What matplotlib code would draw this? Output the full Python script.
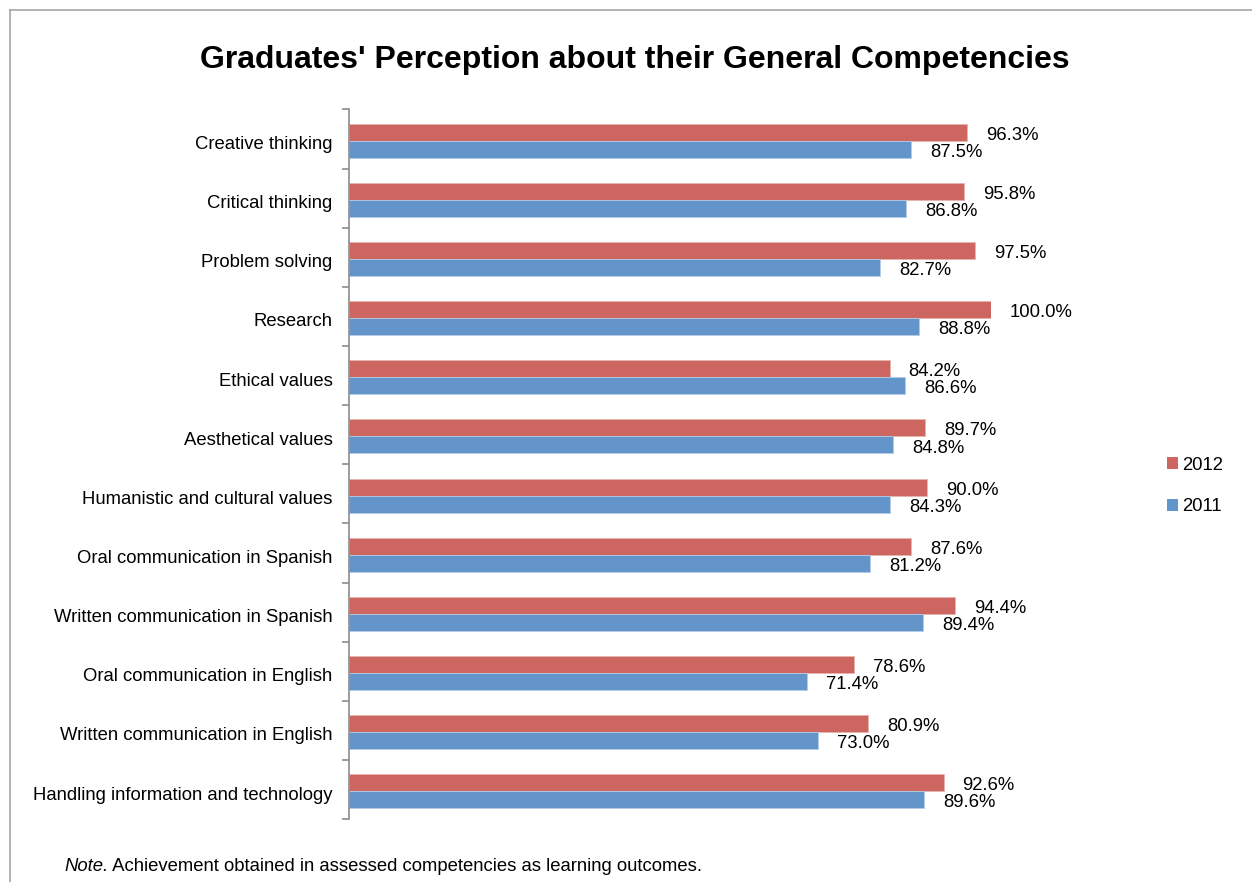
import matplotlib.pyplot as plt
from matplotlib.lines import Line2D
from matplotlib.patches import Patch

plt.rcParams['font.family'] = ['Liberation Sans', 'DejaVu Sans']

# Data (top to bottom as shown)
competencies = [
    'Creative thinking',
    'Critical thinking',
    'Problem solving',
    'Research',
    'Ethical values',
    'Aesthetical values',
    'Humanistic and cultural values',
    'Oral communication in Spanish',
    'Written communication in Spanish',
    'Oral communication in English',
    'Written communication in English',
    'Handling information and technology',
]
values_2012 = [96.3, 95.8, 97.5, 100.0, 84.2, 89.7, 90.0, 87.6, 94.4, 78.6, 80.9, 92.6]
values_2011 = [87.5, 86.8, 82.7, 88.8, 86.6, 84.8, 84.3, 81.2, 89.4, 71.4, 73.0, 89.6]
years = ['2012', '2011']

red = '#CD6660'
blue = '#6395CA'
fs = 13.3

fig = plt.figure(figsize=(12.52, 8.82), dpi=100)
ax = fig.add_axes([0.2788, 0.0714, 0.5128, 0.8045])

bar_h = 0.288
shift = 0.03  # bars sit a touch below the category centre
pos = list(range(len(competencies)))
pos_2012 = [p - bar_h / 2 + shift for p in pos]
pos_2011 = [p + bar_h / 2 + shift for p in pos]

bars_2012 = ax.barh(pos_2012, values_2012, height=bar_h, color=red,
                    edgecolor='#E8B4B0', linewidth=0.6)
bars_2011 = ax.barh(pos_2011, values_2011, height=bar_h, color=blue,
                    edgecolor='#B4CCE6', linewidth=0.6)

for bars, vals in [(bars_2012, values_2012), (bars_2011, values_2011)]:
    for b, v in zip(bars, vals):
        ax.annotate(f'{v:.1f}%', xy=(b.get_width(), b.get_y() + b.get_height() / 2),
                    xytext=(13.7, -2.2), textcoords='offset points',
                    ha='left', va='center', fontsize=fs, annotation_clip=False)

ax.set_xlim(0, 100)
ax.set_ylim(len(competencies) - 0.5, -0.5)

# axis styling: only the left spine, ticks between categories
for side in ['top', 'right', 'bottom']:
    ax.spines[side].set_visible(False)
ax.spines['left'].set_color('#8C8C8C')
ax.spines['left'].set_linewidth(1.2)
ax.set_xticks([])
ax.set_yticks([p + 0.06 for p in pos])
ax.set_yticklabels(competencies, fontsize=fs)
ax.tick_params(axis='y', which='major', length=0, pad=12)
ax.set_yticks([p - 0.5 for p in pos] + [len(pos) - 0.5], minor=True)
ax.tick_params(axis='y', which='minor', length=5, width=1.2, color='#8C8C8C')

handles = [Patch(facecolor=red), Patch(facecolor=blue)]
fig.legend(handles, years, loc='center left', bbox_to_anchor=(0.919, 0.449),
           frameon=False, fontsize=fs, handlelength=0.6, handleheight=0.6,
           handletextpad=0.2, labelspacing=1.35)

fig.text(0.507, 0.932, "Graduates' Perception about their General Competencies",
         ha='center', va='center', fontsize=23, fontweight='bold')

note = fig.text(0.0511, 0.018, 'Note.', fontsize=fs, style='italic', ha='left', va='center')
ax.annotate(' Achievement obtained in assessed competencies as learning outcomes.',
            xy=(1, 0.5), xycoords=note, ha='left', va='center', fontsize=fs,
            annotation_clip=False)

# outer frame (left and top edges)
fig.add_artist(Line2D([0.008, 0.008], [0, 0.989], transform=fig.transFigure,
                      color='#A6A6A6', linewidth=1.2))
fig.add_artist(Line2D([0.008, 1], [0.989, 0.989], transform=fig.transFigure,
                      color='#A6A6A6', linewidth=1.2))

fig.savefig('out.png', dpi=100)
